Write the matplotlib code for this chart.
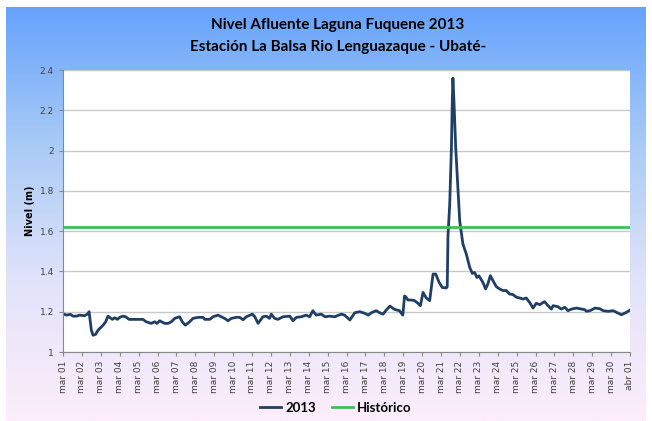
import numpy as np
import matplotlib.pyplot as plt
from matplotlib.colors import LinearSegmentedColormap

# Etiquetas del eje x (una por marca)
etiquetas = ['mar %02d' % d for d in range(1, 31)] + ['abr 01']

# Serie 2013: dia (0 = mar 01) y nivel (m)
dias = [0.0, 0.18, 0.39, 0.53, 0.71, 0.88, 1.14, 1.32, 1.38, 1.50, 1.59,
        1.73, 1.85, 2.12, 2.26, 2.38, 2.47, 2.61, 2.73, 2.88, 3.00, 3.17,
        3.32, 3.49, 4.23, 4.40, 4.67, 4.85, 4.97, 5.11, 5.38, 5.56, 5.73,
        5.91, 6.17, 6.31, 6.47, 6.70, 6.88, 7.14, 7.41, 7.50, 7.76, 7.94,
        8.20, 8.38, 8.55, 8.73, 8.91, 9.17, 9.35, 9.53, 9.70, 10.02, 10.15,
        10.32, 10.58, 10.76, 10.93, 11.02, 11.20, 11.37, 11.64, 12.00, 12.17,
        12.35, 12.61, 12.87, 13.05, 13.22, 13.40, 13.66, 13.87, 14.10, 14.37,
        14.73, 14.90, 15.18, 15.44, 15.70, 15.97, 16.15, 16.32, 16.57, 16.75,
        16.93, 17.10, 17.30, 17.53, 17.80, 17.98, 18.07, 18.13, 18.25, 18.43,
        18.60, 18.78, 18.91, 19.05, 19.22, 19.40, 19.58, 19.72, 19.90, 20.07,
        20.28, 20.33, 20.37, 20.46, 20.55, 20.60, 20.63, 20.68, 20.78, 20.90,
        20.99, 21.16, 21.34, 21.52, 21.66, 21.78, 21.90, 22.01, 22.22, 22.36,
        22.48, 22.61, 22.75, 22.93, 23.10, 23.28, 23.46, 23.63, 23.81, 23.99,
        24.16, 24.34, 24.51, 24.69, 24.87, 25.04, 25.22, 25.48, 25.66, 25.84,
        25.93, 26.19, 26.37, 26.55, 26.72, 26.90, 27.17, 27.61, 27.70, 27.88,
        28.14, 28.40, 28.58, 28.84, 29.11, 29.55, 29.81, 30.0]
nivel_2013 = [1.190, 1.183, 1.187, 1.178, 1.178, 1.183, 1.180, 1.190, 1.200,
              1.108, 1.083, 1.088, 1.108, 1.133, 1.150, 1.178, 1.172, 1.162,
              1.170, 1.162, 1.172, 1.178, 1.175, 1.162, 1.162, 1.150, 1.142,
              1.150, 1.142, 1.155, 1.142, 1.142, 1.150, 1.167, 1.175, 1.150,
              1.133, 1.150, 1.167, 1.172, 1.172, 1.162, 1.162, 1.175, 1.183,
              1.175, 1.167, 1.155, 1.167, 1.172, 1.172, 1.160, 1.175, 1.188,
              1.175, 1.142, 1.175, 1.178, 1.167, 1.188, 1.167, 1.162, 1.175,
              1.178, 1.155, 1.172, 1.175, 1.183, 1.175, 1.205, 1.183, 1.188,
              1.175, 1.178, 1.175, 1.188, 1.183, 1.159, 1.195, 1.200, 1.192,
              1.183, 1.195, 1.205, 1.195, 1.188, 1.208, 1.228, 1.212, 1.205,
              1.183, 1.278, 1.275, 1.258, 1.258, 1.255, 1.242, 1.230, 1.296,
              1.268, 1.255, 1.387, 1.387, 1.346, 1.320, 1.318, 1.324, 1.580,
              1.730, 2.010, 2.260, 2.360, 2.260, 2.010, 1.800, 1.650, 1.536,
              1.486, 1.420, 1.390, 1.395, 1.370, 1.378, 1.345, 1.313, 1.338,
              1.379, 1.354, 1.324, 1.313, 1.305, 1.305, 1.288, 1.285, 1.272,
              1.268, 1.263, 1.268, 1.246, 1.218, 1.242, 1.235, 1.250, 1.230,
              1.213, 1.230, 1.225, 1.213, 1.222, 1.205, 1.213, 1.218, 1.210,
              1.202, 1.205, 1.218, 1.215, 1.205, 1.202, 1.205, 1.185, 1.197,
              1.208]

# Nivel historico (m)
historico = 1.62

fig = plt.figure(figsize=(6.52, 4.21), dpi=100)

# fondo degradado
fondo = fig.add_axes([6 / 652, 0, 640 / 652, 1 - 7 / 421], zorder=-1)
cmap = LinearSegmentedColormap.from_list(
    'fondo', ['#66a3fc', '#a9cbf6', '#e2e3fa', '#fdeefb'])
grad = np.linspace(0, 1, 256).reshape(-1, 1)
fondo.imshow(grad, aspect='auto', cmap=cmap, extent=[0, 1, 0, 1])
fondo.axis('off')

ax = fig.add_axes([63 / 652, 1 - 352 / 421, 567 / 652, 282 / 421])
ax.set_facecolor('white')
ax.plot(dias, nivel_2013, color='#203f66', lw=2, label='2013')
ax.axhline(historico, color='#3cbf5a', lw=2, label='Histórico')

ax.set_xlim(0, 30)
ax.set_ylim(1, 2.4)
ax.set_xticks(range(len(etiquetas)))
ax.set_xticklabels(etiquetas, rotation=90, fontsize=6.5, color='#404040')
ax.set_yticks(np.arange(1, 2.41, 0.2))
ax.set_yticklabels(['1', '1.2', '1.4', '1.6', '1.8', '2', '2.2', '2.4'],
                   fontsize=6.5, color='#404040')
ax.tick_params(length=3, color='#888888', width=0.8)
ax.yaxis.grid(True, color='#c8c8c8', lw=1)
ax.set_axisbelow(True)
for s in ['top', 'right']:
    ax.spines[s].set_visible(False)
for s in ['left', 'bottom']:
    ax.spines[s].set_color('#888888')
    ax.spines[s].set_linewidth(0.8)
ax.set_ylabel('Nivel (m)', fontsize=7, fontweight='bold', labelpad=3)

fig.text(0.518, 1 - 25 / 421, 'Nivel Afluente Laguna Fuquene 2013',
         ha='center', va='center', fontsize=11, fontweight='bold',
         family='Lato')
fig.text(0.518, 1 - 47 / 421, 'Estación La Balsa Rio Lenguazaque - Ubaté-',
         ha='center', va='center', fontsize=11, fontweight='bold',
         family='Lato')

leg = fig.legend(loc='center', bbox_to_anchor=(0.515, 1 - 408 / 421), ncol=2,
                 frameon=False, handlelength=1.6, handletextpad=0.3,
                 columnspacing=1.2,
                 prop={'weight': 'bold', 'size': 9.5, 'family': 'Lato'})

fig.savefig('out.png', dpi=100)
